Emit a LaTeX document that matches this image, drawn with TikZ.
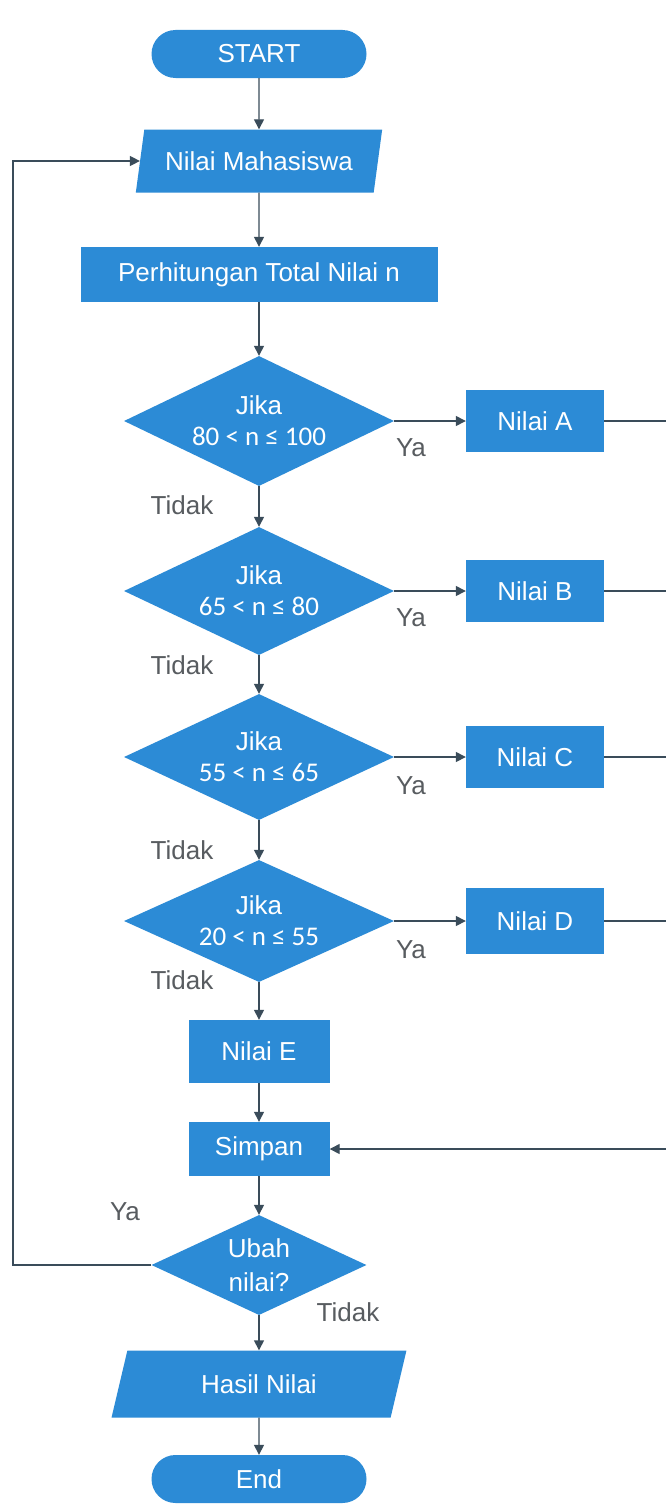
\documentclass[tikz,border=0pt]{standalone}
\usepackage{fontspec}
\setmainfont{Liberation Sans}
\newfontfamily\rangefont{Carlito}
\usetikzlibrary{shapes.geometric,shapes.misc,arrows.meta}
\definecolor{boxblue}{RGB}{44,139,214}
\definecolor{linec}{RGB}{58,76,90}
\definecolor{labc}{RGB}{88,92,96}
\begin{document}
\begin{tikzpicture}[x=1pt,y=-1pt,
  font=\fontsize{26}{31}\selectfont,
  base/.style={fill=boxblue, draw=none, text=white, inner sep=0pt, align=center},
  term/.style={base, rounded rectangle, minimum width=215, minimum height=48},
  io/.style={base, trapezium, trapezium left angle=70, trapezium right angle=110, trapezium stretches=true},
  dec/.style={base, diamond, aspect=2.1},
  arr/.style={draw=linec, line width=1.4pt, -{Triangle[length=10pt,width=10pt]}},
  ln/.style={draw=linec, line width=1.4pt},
  lab/.style={text=labc, inner sep=0pt}
]
\fill[white] (0,0) rectangle (665,1504);
\useasboundingbox (0,0) rectangle (665,1504);

\node[term] (start) at (259,54) {START};
\node[io, minimum width=247, minimum height=63] (nm) at (259,161) {Nilai Mahasiswa};
\node[base, minimum width=357, minimum height=55] (perh) at (259,274.5) {Perhitungan Total Nilai n};

\node[dec, minimum width=270, minimum height=130] (d1) at (259,421) {Jika\\{\rangefont\fontsize{27}{31}\selectfont 80 < n ≤ 100}};
\node[dec, minimum width=270, minimum height=128] (d2) at (259,591) {Jika\\{\rangefont\fontsize{27}{31}\selectfont 65 < n ≤ 80}};
\node[dec, minimum width=270, minimum height=126] (d3) at (259,757) {Jika\\{\rangefont\fontsize{27}{31}\selectfont 55 < n ≤ 65}};
\node[dec, minimum width=270, minimum height=122] (d4) at (259,921) {Jika\\{\rangefont\fontsize{27}{31}\selectfont 20 < n ≤ 55}};

\node[base, minimum width=138, minimum height=62] (na) at (535,421) {Nilai A};
\node[base, minimum width=138, minimum height=62] (nb) at (535,591) {Nilai B};
\node[base, minimum width=138, minimum height=62] (nc) at (535,757) {Nilai C};
\node[base, minimum width=138, minimum height=66] (nd) at (535,921) {Nilai D};

\node[base, minimum width=141, minimum height=63] (ne) at (259,1051.5) {Nilai E};
\node[base, minimum width=141, minimum height=54] (simpan) at (259,1149) {Simpan};
\node[dec, minimum width=215, minimum height=100] (ubah) at (259,1265) {Ubah\\[3pt]nilai?};
\node[io, minimum width=295, minimum height=67] (hasil) at (259,1384) {Hasil Nilai};
\node[term] (end) at (259,1479) {End};

\coordinate (R) at (667,0);
\coordinate (L) at (13,0);

\draw[arr] (start) -- (nm);
\draw[arr] (nm) -- (perh);
\draw[arr] (perh) -- (d1);
\draw[arr] (d1) -- (d2);
\draw[arr] (d2) -- (d3);
\draw[arr] (d3) -- (d4);
\draw[arr] (d4) -- (ne);
\draw[arr] (ne) -- (simpan);
\draw[arr] (simpan) -- (ubah);
\draw[arr] (ubah) -- (hasil);
\draw[arr] (hasil) -- (end);

\draw[arr] (d1.east) -- (na);
\draw[arr] (d2.east) -- (nb);
\draw[arr] (d3.east) -- (nc);
\draw[arr] (d4.east) -- (nd);

\draw[ln] (na.east) -- (na.east -| R);
\draw[ln] (nb.east) -- (nb.east -| R);
\draw[ln] (nc.east) -- (nc.east -| R);
\draw[ln] (nd.east) -- (nd.east -| R);
\draw[arr] (na.east -| R) -- (simpan.east -| R) -- (simpan.east);

\draw[arr] (ubah.west) -- (ubah.west -| L) |- (nm);

\node[lab] (ya1) at (411,448) {Ya};
\node[lab] (ya2) at (411,618) {Ya};
\node[lab] (ya3) at (411,786) {Ya};
\node[lab] (ya4) at (411,950) {Ya};
\node[lab] (td1) at (182,505) {Tidak};
\node[lab] (td2) at (182,665) {Tidak};
\node[lab] (td3) at (182,850) {Tidak};
\node[lab] (td4) at (182,980) {Tidak};
\node[lab] (ya5) at (125,1212) {Ya};
\node[lab] (td5) at (348,1312) {Tidak};
\end{tikzpicture}
\end{document}
